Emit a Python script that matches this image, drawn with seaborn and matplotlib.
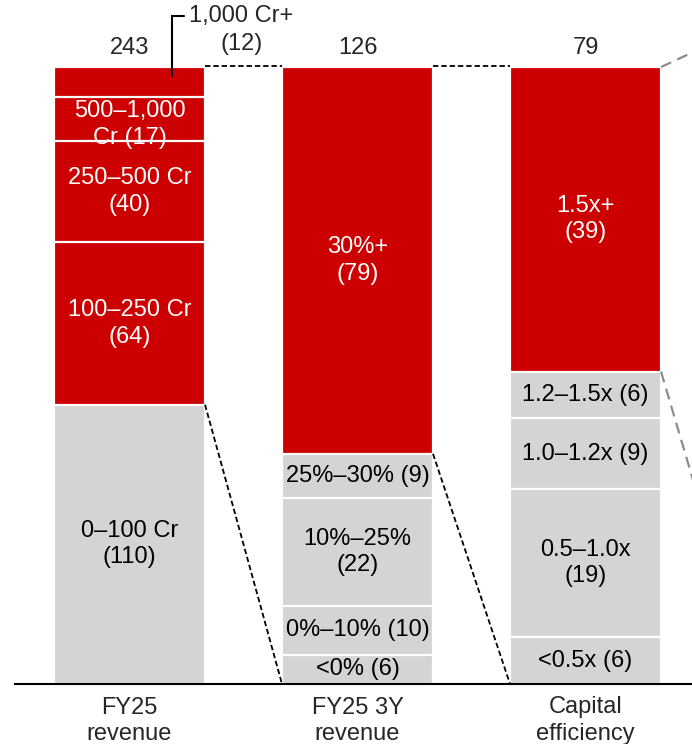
import matplotlib
matplotlib.use("Agg")
import matplotlib.pyplot as plt
import seaborn as sns
import pandas as pd

# ---------------- data ----------------
metrics = ["FY25\nrevenue", "FY25 3Y\nrevenue", "Capital\nefficiency"]
totals = [243, 126, 79]

rev_labels = ["0–100 Cr\n(110)", "100–250 Cr\n(64)", "250–500 Cr\n(40)", "500–1,000\nCr (17)", ""]
rev_counts = [110, 64, 40, 17, 12]
rev_red = [False, True, True, True, True]

growth_labels = ["<0% (6)", "0%–10% (10)", "10%–25%\n(22)", "25%–30% (9)", "30%+\n(79)"]
growth_counts = [6, 10, 22, 9, 79]
growth_red = [False, False, False, False, True]

cap_labels = ["<0.5x (6)", "0.5–1.0x\n(19)", "1.0–1.2x (9)", "1.2–1.5x (6)", "1.5x+\n(39)"]
cap_counts = [6, 19, 9, 6, 39]
cap_red = [False, False, False, False, True]

callout_label = "1,000 Cr+\n(12)"

RED = "#CC0000"
GRAY = "#D4D4D4"

# ---------------- build table ----------------
rows = []
for m, tot, labs, cnts, reds in [
    (metrics[0], totals[0], rev_labels, rev_counts, rev_red),
    (metrics[1], totals[1], growth_labels, growth_counts, growth_red),
    (metrics[2], totals[2], cap_labels, cap_counts, cap_red),
]:
    cum = 0
    for lvl, (lab, c, r) in enumerate(zip(labs, cnts, reds)):
        bottom = cum / tot
        cum += c
        rows.append(dict(metric=m, level=lvl, bottom=bottom, top=cum / tot,
                         label=lab, band="red" if r else "gray"))
df = pd.DataFrame(rows)

# ---------------- plot ----------------
sns.set_style("white")
plt.rcParams["font.family"] = ["Liberation Sans", "DejaVu Sans"]
FS = 17

fig = plt.figure(figsize=(6.92, 7.44), dpi=100)
ax = fig.add_axes([15 / 692, 60 / 744, 677 / 692, 617 / 744])
W = 151 / 228

for lvl in sorted(df["level"].unique(), reverse=True):
    sub = df[df["level"] == lvl]
    sns.barplot(data=sub, x="metric", y="top", hue="band", hue_order=["red", "gray"],
                palette={"red": RED, "gray": GRAY}, order=metrics, dodge=False,
                width=W, edgecolor="white", linewidth=1.6, legend=False,
                saturation=1, errorbar=None, ax=ax, zorder=1)

# segment labels
for _, r in df.iterrows():
    if not r["label"]:
        continue
    i = metrics.index(r["metric"])
    ymid = (r["bottom"] + r["top"]) / 2
    # text too tall for its thin segment sits slightly low, as in the source
    if r["top"] - r["bottom"] < 0.08 and "\n" in r["label"]:
        ymid -= 0.009
    ax.text(i, ymid, r["label"], ha="center", va="center",
            color="white" if r["band"] == "red" else "black", fontsize=FS,
            linespacing=1.25, zorder=5)

# totals
for i, t in enumerate(totals):
    ax.text(i, 1.030, str(t), ha="center", va="center", fontsize=FS, clip_on=False)

# connector dashed lines between bars
gray_fracs = []
for m in metrics:
    s = df[(df["metric"] == m) & (df["band"] == "red")]
    gray_fracs.append(s["bottom"].min())
for i in range(2):
    x0, x1 = i + W / 2, i + 1 - W / 2
    ax.plot([x0, x1], [1.001, 1.001], color="black", lw=1.3, ls=(0, (3, 1.6)), clip_on=False, zorder=4)
    ax.plot([x0, x1], [gray_fracs[i], 0], color="black", lw=1.3, ls=(0, (3, 1.6)), clip_on=False, zorder=4)

# lines leading off to the right from the last bar
x0 = 2 + W / 2
ax.plot([x0, 2.669], [1, 1.058], color="#8C8C8C", lw=1.6, ls=(0, (5, 3)), clip_on=False, zorder=4)
ax.plot([x0, 2.669], [gray_fracs[2], 0.0835], color="#8C8C8C", lw=1.6, ls=(0, (5, 3)), clip_on=False, zorder=4)

# callout for the 1,000 Cr+ segment
ax.plot([0.186, 0.186, 0.240], [0.986, 1.0825, 1.0825], color="black", lw=1.5,
        clip_on=False, zorder=6, solid_joinstyle="miter")
ax.text(0.490, 1.060, callout_label, ha="center", va="center", fontsize=FS,
        linespacing=1.32, multialignment="center", clip_on=False)

# axes styling
ax.set_xlim(-0.5022, 2.467)
ax.set_ylim(0, 1)
ax.set_xlabel("")
ax.set_ylabel("")
ax.set_yticks([])
ax.tick_params(axis="x", length=0, pad=9, labelsize=FS)
for lab in ax.get_xticklabels():
    lab.set_linespacing(1.27)
for s in ["left", "right", "top"]:
    ax.spines[s].set_visible(False)
ax.spines["bottom"].set_color("black")
ax.spines["bottom"].set_linewidth(1.5)
ax.spines["bottom"].set_zorder(6)

fig.savefig("out.png", dpi=100)
